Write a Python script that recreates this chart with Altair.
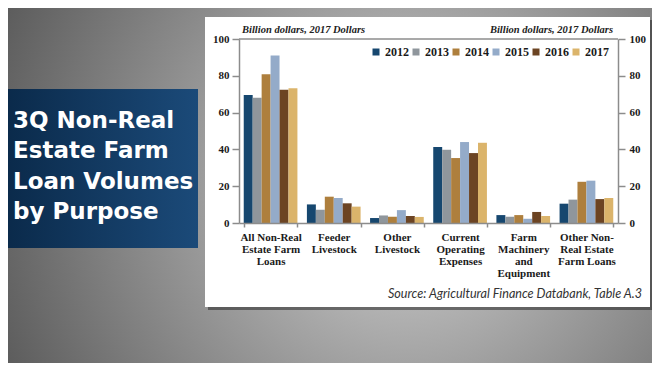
import altair as alt
import pandas as pd

# ---------------- data ----------------
categories = [
    "All Non-Real\nEstate Farm\nLoans",
    "Feeder\nLivestock",
    "Other\nLivestock",
    "Current\nOperating\nExpenses",
    "Farm\nMachinery\nand\nEquipment",
    "Other Non-\nReal Estate\nFarm Loans",
]
years = ["2012", "2013", "2014", "2015", "2016", "2017"]
v2012 = [69.6, 10.1, 2.7, 41.3, 4.3, 10.5]
v2013 = [68.1, 7.2, 4.1, 39.8, 3.4, 12.7]
v2014 = [80.8, 14.3, 3.4, 35.3, 4.3, 22.4]
v2015 = [91.0, 13.6, 7.0, 44.0, 2.3, 23.0]
v2016 = [72.4, 10.7, 3.8, 38.0, 6.0, 13.0]
v2017 = [73.2, 8.9, 3.3, 43.6, 3.8, 13.6]
y_ticks = [0, 20, 40, 60, 80, 100]
colors = ["#16476f", "#8f969c", "#ae7f3d", "#94abc9", "#6c4423", "#dbb46b"]

title_text = "3Q Non-Real\nEstate Farm\nLoan Volumes\nby Purpose"
unit_text = "Billion dollars, 2017 Dollars"
source_text = "Source: Agricultural Finance Databank, Table A.3"

series = [v2012, v2013, v2014, v2015, v2016, v2017]
rows = []
for yr, vals in zip(years, series):
    for cat, v in zip(categories, vals):
        rows.append({"category": cat, "year": yr, "value": v})
df = pd.DataFrame(rows)
one = pd.DataFrame({"k": [0]})

# ---------------- geometry ----------------
W, H = 379, 184
PAD = {"left": 231, "top": 31, "right": 34, "bottom": 140}
AXIS_COLOR = "#8c8c8c"
SERIF = "Liberation Serif"

# ---------------- decorations ----------------
bg = alt.Chart(one).mark_rect(
    fill=alt.RadialGradient(
        gradient="radial",
        stops=[alt.GradientStop(color="#d4d4d4", offset=0),
               alt.GradientStop(color="#505050", offset=1)],
        x1=0.62, y1=0.5, x2=0.62, y2=0.5, r1=0, r2=0.75,
    )
).encode(x=alt.value(-231), x2=alt.value(413), y=alt.value(-31), y2=alt.value(324))

shadow = alt.Chart(one).mark_rect(fill="#202020", opacity=0.5).encode(
    x=alt.value(-31), x2=alt.value(414), y=alt.value(-19), y2=alt.value(271))

panel = alt.Chart(one).mark_rect(fill="white").encode(
    x=alt.value(-34), x2=alt.value(411), y=alt.value(-22), y2=alt.value(268))

bluebox = alt.Chart(one).mark_rect(
    fill=alt.LinearGradient(
        gradient="linear",
        stops=[alt.GradientStop(color="#0a2949", offset=0),
               alt.GradientStop(color="#1b4a79", offset=1)],
        x1=0, y1=0, x2=1, y2=0,
    )
).encode(x=alt.value(-239), x2=alt.value(-41), y=alt.value(50), y2=alt.value(209))

title = alt.Chart(one).mark_text(
    text=title_text, lineBreak="\n", lineHeight=30.4, font="DejaVu Sans",
    fontWeight="bold", fontSize=23, color="white", align="left", baseline="alphabetic",
).encode(x=alt.value(-226), y=alt.value(89))

unit_l = alt.Chart(one).mark_text(
    text=unit_text, font=SERIF, fontStyle="italic", fontWeight="bold", fontSize=10.5,
    color="#222222", align="left", baseline="alphabetic",
).encode(x=alt.value(3), y=alt.value(-6))

unit_r = alt.Chart(one).mark_text(
    text=unit_text, font=SERIF, fontStyle="italic", fontWeight="bold", fontSize=10.5,
    color="#222222", align="right", baseline="alphabetic",
).encode(x=alt.value(374), y=alt.value(-6))

source = alt.Chart(one).mark_text(
    text=source_text, font="Lato", fontStyle="italic", fontSize=12.6,
    color="#333333", align="right", baseline="alphabetic",
).encode(x=alt.value(403), y=alt.value(259))

top_rule = alt.Chart(one).mark_rule(color=AXIS_COLOR, strokeWidth=1.5).encode(
    x=alt.value(0), x2=alt.value(W), y=alt.value(0))

# ---------------- bars & axes ----------------
yscale = alt.Scale(domain=[0, 100], nice=False)

left_axis = alt.Axis(
    orient="left", values=y_ticks, title=None, grid=False,
    domainColor=AXIS_COLOR, domainWidth=1.5, tickColor=AXIS_COLOR, tickWidth=1.5,
    tickSize=7, labelFont=SERIF, labelFontWeight="bold", labelFontSize=11,
    labelColor="#1a1a1a", labelPadding=3, zindex=1,
)
right_axis = alt.Axis(
    orient="right", values=y_ticks, title=None, grid=False,
    domainColor=AXIS_COLOR, domainWidth=1.5, tickColor=AXIS_COLOR, tickWidth=1.5,
    tickSize=7, labelFont=SERIF, labelFontWeight="bold", labelFontSize=11,
    labelColor="#1a1a1a", labelPadding=4, zindex=1,
)
x_axis = alt.Axis(
    title=None, labelAngle=0, labelExpr="split(datum.label, '\\n')",
    labelLineHeight=12.3, labelFont=SERIF, labelFontWeight="bold", labelFontSize=11,
    labelColor="#1a1a1a", labelBaseline="top", labelPadding=4, labelOverlap=False,
    tickBand="extent", tickSize=4, tickColor=AXIS_COLOR, tickWidth=1.5,
    domainColor=AXIS_COLOR, domainWidth=1.5, zindex=1,
)

bars = alt.Chart(df).mark_bar().encode(
    x=alt.X("category:N", sort=categories,
            scale=alt.Scale(paddingInner=0.15, paddingOuter=0.075), axis=x_axis),
    xOffset=alt.XOffset("year:N", sort=years,
                        scale=alt.Scale(paddingInner=0, paddingOuter=0)),
    y=alt.Y("value:Q", scale=yscale, axis=left_axis),
    color=alt.Color(
        "year:N", sort=years, scale=alt.Scale(domain=years, range=colors),
        legend=alt.Legend(
            orient="none", legendX=131, legendY=7, direction="horizontal", columns=6,
            title=None, symbolType="square", symbolSize=49, symbolStrokeWidth=0,
            labelFont=SERIF, labelFontWeight="bold", labelFontSize=12,
            labelColor="#1a1a1a", labelOffset=3, columnPadding=1, padding=0,
        ),
    ),
)

right = alt.Chart(df).mark_point(opacity=0).encode(
    y=alt.Y("value:Q", scale=yscale, axis=right_axis))

chart = alt.layer(
    bg, shadow, panel, bluebox, title, unit_l, unit_r, source, top_rule, bars, right
).resolve_axis(y="independent").properties(
    width=W, height=H, padding=PAD,
    autosize=alt.AutoSizeParams(type="none"),
    background="#6a6a6a",
).configure_view(stroke=None)

chart.save("out.html", embed_options={"renderer": "svg", "actions": False})
